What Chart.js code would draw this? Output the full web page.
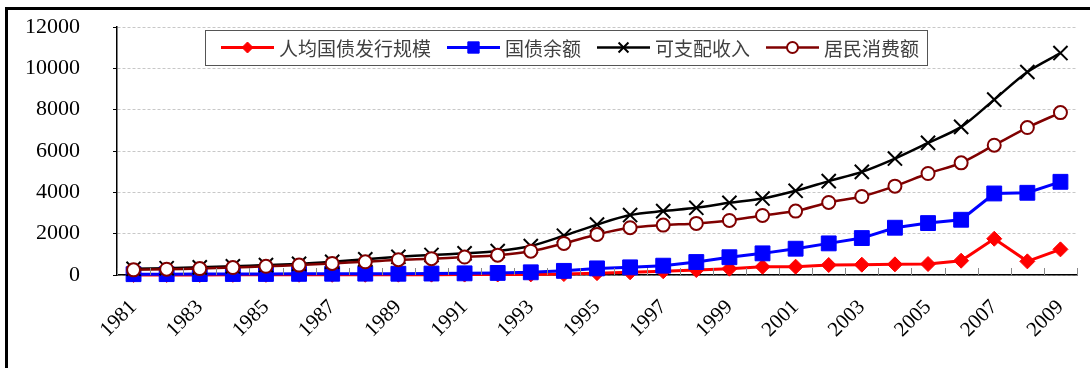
<!DOCTYPE html>
<html>
<head>
<meta charset="utf-8">
<script src="https://cdn.jsdelivr.net/npm/chart.js@4"></script>
<style>
  html, body { margin: 0; padding: 0; background: #fff; overflow: hidden; }
  #frame { position: absolute; left: 5px; top: 7px; width: 1200px; height: 500px; border: 3px solid #000; }
  #wrap { position: absolute; left: 0; top: 0; width: 1090px; height: 368px; }
</style>
</head>
<body>
<div id="frame"></div>
<div id="wrap"><canvas id="grafico" width="1090" height="368"></canvas></div>
<script>
// años y series
const anios = ["1981","1982","1983","1984","1985","1986","1987","1988","1989","1990",
  "1991","1992","1993","1994","1995","1996","1997","1998","1999","2000",
  "2001","2002","2003","2004","2005","2006","2007","2008","2009"];

const nombres = ["人均国债发行规模", "国债余额", "可支配收入", "居民消费额"];

const emisionPerCapita = [5, 5, 5, 8, 8, 10, 10, 12, 15, 18, 20, 25, 30, 45, 90, 130, 180, 240, 306,
  400, 402, 483, 499, 515, 531, 692, 1755, 660, 1240];
const saldoDeuda = [40, 42, 45, 48, 50, 55, 60, 65, 60, 70, 80, 100, 130, 200, 320, 370, 451, 628, 860,
  1047, 1272, 1530, 1787, 2287, 2512, 2673, 3945, 3978, 4509];
const ingresoDisp = [300, 330, 370, 420, 480, 540, 640, 760, 880, 970, 1050, 1160, 1400, 1900, 2440, 2899,
  3092, 3253, 3495, 3700, 4074, 4541, 4991, 5636, 6393, 7166, 8486, 9823, 10740];
const consumo = [250, 280, 310, 360, 420, 480, 560, 640, 740, 790, 870, 960, 1150, 1530, 1964, 2287,
  2415, 2496, 2640, 2882, 3092, 3511, 3800, 4300, 4911, 5427, 6280, 7134, 7858];

const yMax = 12000;
const yPaso = 2000;

// ===============================
//   LEYENDA CON CAJA (plugin)
// ===============================
const leyendaCaja = {
  id: "leyendaCaja",
  afterDatasetsDraw(chart) {
    const ctx = chart.ctx;
    const caja = { x: 205, y: 30, h: 35 };
    const largoLinea = 53;
    ctx.save();
    ctx.font = "19px 'Noto Sans CJK SC', 'Noto Sans', sans-serif";
    let x = caja.x + 16;
    const items = chart.data.datasets.map(ds => {
      const w = ctx.measureText(ds.label).width;
      const it = { ds, x0: x, tx: x + largoLinea + 5 };
      x = it.tx + w + 16;
      return it;
    });
    const ancho = x - caja.x - 8;
    ctx.fillStyle = "#fff";
    ctx.fillRect(caja.x, caja.y, ancho, caja.h);
    ctx.strokeStyle = "#555";
    ctx.lineWidth = 1;
    ctx.strokeRect(caja.x + 0.5, caja.y + 0.5, ancho, caja.h);
    const cy = caja.y + caja.h / 2;
    items.forEach(({ ds, x0, tx }) => {
      ctx.strokeStyle = ds.borderColor;
      ctx.lineWidth = ds.borderWidth;
      ctx.beginPath();
      ctx.moveTo(x0, cy);
      ctx.lineTo(x0 + largoLinea, cy);
      ctx.stroke();
      ctx.fillStyle = ds.pointBackgroundColor;
      ctx.strokeStyle = ds.pointBorderColor;
      ctx.lineWidth = ds.pointBorderWidth;
      Chart.helpers.drawPoint(ctx, { pointStyle: ds.pointStyle, radius: ds.legendRadius, borderWidth: ds.pointBorderWidth, rotation: 0 }, x0 + largoLinea / 2, cy);
      ctx.fillStyle = "#404040";
      ctx.textBaseline = "middle";
      ctx.textAlign = "left";
      ctx.fillText(ds.label, tx, cy + 1);
    });
    ctx.restore();
  }
};

// marcas del eje X entre categorías, hacia arriba
const marcasX = {
  id: "marcasX",
  afterDraw(chart) {
    const esc = chart.scales.x;
    const ctx = chart.ctx;
    ctx.save();
    ctx.strokeStyle = "#888";
    ctx.lineWidth = 1;
    for (let i = 0; i <= anios.length; i++) {
      const px = Math.round(esc.getPixelForValue(i - 0.5)) + 0.5;
      ctx.beginPath();
      ctx.moveTo(px, esc.top);
      ctx.lineTo(px, esc.top - 7);
      ctx.stroke();
    }
    ctx.restore();
  }
};

const grafico = new Chart(document.getElementById("grafico"), {
  type: "line",
  data: {
    labels: anios,
    datasets: [
      { label: nombres[0], data: emisionPerCapita, borderColor: "#ff0000", borderWidth: 3,
        pointStyle: "rectRot", pointRadius: 7.5, legendRadius: 5.5, pointBackgroundColor: "#ff0000",
        pointBorderColor: "#ff0000", pointBorderWidth: 1, tension: 0, order: 4, clip: false },
      { label: nombres[1], data: saldoDeuda, borderColor: "#0000ff", borderWidth: 3,
        pointStyle: "rect", pointRadius: 10.5, legendRadius: 8, pointBackgroundColor: "#0000ff",
        pointBorderColor: "#0000ff", pointBorderWidth: 1, tension: 0, order: 3, clip: false },
      { label: nombres[2], data: ingresoDisp, borderColor: "#000000", borderWidth: 2.5,
        pointStyle: "crossRot", pointRadius: 10, legendRadius: 7, pointBackgroundColor: "#000000",
        pointBorderColor: "#000000", pointBorderWidth: 2, tension: 0.3, order: 2, clip: false },
      { label: nombres[3], data: consumo, borderColor: "#800000", borderWidth: 2.5,
        pointStyle: "circle", pointRadius: 6.5, legendRadius: 5.5, pointBackgroundColor: "#ffffff",
        pointBorderColor: "#800000", pointBorderWidth: 2, tension: 0.3, order: 1, clip: false }
    ]
  },
  options: {
    responsive: false,
    animation: false,
    devicePixelRatio: 1,
    layout: { padding: { top: 27, right: 13, left: 0, bottom: 0 } },
    plugins: { legend: { display: false }, tooltip: { enabled: false } },
    elements: { point: { hoverRadius: 6 } },
    scales: {
      x: {
        offset: true,
        grid: { display: false },
        border: { display: true, color: "#000", width: 1.5 },
        ticks: {
          autoSkip: false,
          maxRotation: 45,
          minRotation: 45,
          padding: 12,
          color: "#000",
          font: { family: "'Liberation Serif', 'DejaVu Serif', serif", size: 21 },
          callback: (v, i) => (i % 2 === 0 ? anios[i] : "")
        },
        afterFit: (s) => { s.height = 93; s.paddingTop = 0; s.paddingBottom = 0; s.paddingLeft = 0; s.paddingRight = 0; }
      },
      y: {
        min: 0,
        max: yMax,
        grid: { color: "#c8c8c8", tickColor: "#000", tickLength: 4, lineWidth: 1 },
        border: { display: true, color: "#000", width: 1.5, dash: [3, 2] },
        ticks: {
          stepSize: yPaso,
          padding: 33,
          color: "#000",
          font: { family: "'Liberation Serif', 'DejaVu Serif', serif", size: 22 },
          callback: (v) => String(v)
        },
        afterFit: (s) => { s.width = 117; s.paddingTop = 0; s.paddingBottom = 0; }
      }
    }
  },
  plugins: [marcasX, leyendaCaja]
});
</script>
</body>
</html>
